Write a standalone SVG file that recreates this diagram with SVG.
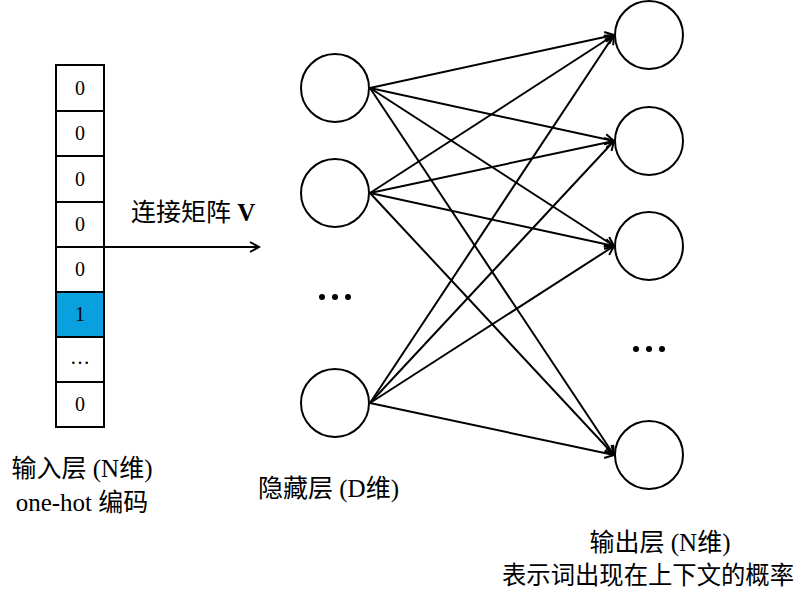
<svg xmlns="http://www.w3.org/2000/svg" width="800" height="600" viewBox="0 0 800 600">
<style>
text{font-family:"Liberation Serif","Noto Sans CJK SC",serif;font-size:20px;fill:#000}
.l{font-size:25px}
.c{fill:#fff;stroke:#000;stroke-width:2}
.cell{fill:#fff;stroke:#000;stroke-width:2}
.e{stroke:#000;stroke-width:2;fill:none;marker-end:url(#a)}
.dot{fill:#000}
</style>
<defs><marker id="a" markerWidth="12" markerHeight="12" refX="10" refY="6" orient="auto" markerUnits="userSpaceOnUse"><path d="M1,1 L10,6 L1,11" fill="none" stroke="#000" stroke-width="2"/></marker></defs>
<rect width="800" height="600" fill="#fff"/>
<g id="input">
<rect class="cell" x="56" y="65" width="48" height="46"/>
<rect class="cell" x="56" y="111" width="48" height="45"/>
<rect class="cell" x="56" y="156" width="48" height="46"/>
<rect class="cell" x="56" y="202" width="48" height="45"/>
<rect class="cell" x="56" y="247" width="48" height="45"/>
<rect class="cell" x="56" y="292" width="48" height="45" style="fill:#0aa0e0"/>
<rect class="cell" x="56" y="337" width="48" height="45"/>
<rect class="cell" x="56" y="382" width="48" height="45"/>
<g text-anchor="middle">
<text x="80" y="95">0</text><text x="80" y="140">0</text><text x="80" y="186">0</text><text x="80" y="231">0</text><text x="80" y="276">0</text><text x="80" y="321">1</text><text x="80" y="364">…</text><text x="80" y="411">0</text>
<text class="l" x="82" y="477">输入层 (N维)</text><text class="l" x="82" y="511">one-hot 编码</text>
</g>
</g>
<g id="hidden">
<circle class="c" cx="335" cy="88" r="34"/>
<circle class="c" cx="335" cy="193" r="34"/>
<circle class="c" cx="335" cy="403" r="34"/>
<circle class="dot" cx="322" cy="297" r="3"/><circle class="dot" cx="335" cy="297" r="3"/><circle class="dot" cx="348" cy="297" r="3"/>
<text class="l" x="258" y="497">隐藏层 (D维)</text>
</g>
<g id="output">
<circle class="c" cx="649" cy="35" r="34"/>
<circle class="c" cx="649" cy="141" r="34"/>
<circle class="c" cx="649" cy="246" r="34"/>
<circle class="c" cx="649" cy="455" r="34"/>
<circle class="dot" cx="636" cy="349" r="3"/><circle class="dot" cx="649" cy="349" r="3"/><circle class="dot" cx="662" cy="349" r="3"/>
<text class="l" x="660" y="551" text-anchor="middle">输出层 (N维)</text>
<text class="l" x="502" y="584" textLength="292" lengthAdjust="spacingAndGlyphs">表示词出现在上下文的概率</text>
</g>
<g id="connectors">
<line class="e" x1="104" y1="247" x2="259" y2="247"/>
<text class="l" x="131" y="221">连接矩阵 <tspan font-weight="bold">V</tspan></text>
<line class="e" x1="370" y1="88" x2="614" y2="35"/>
<line class="e" x1="370" y1="88" x2="614" y2="141"/>
<line class="e" x1="370" y1="88" x2="614" y2="246"/>
<line class="e" x1="370" y1="88" x2="614" y2="455"/>
<line class="e" x1="370" y1="193" x2="614" y2="35"/>
<line class="e" x1="370" y1="193" x2="614" y2="141"/>
<line class="e" x1="370" y1="193" x2="614" y2="246"/>
<line class="e" x1="370" y1="193" x2="614" y2="455"/>
<line class="e" x1="370" y1="403" x2="614" y2="35"/>
<line class="e" x1="370" y1="403" x2="614" y2="141"/>
<line class="e" x1="370" y1="403" x2="614" y2="246"/>
<line class="e" x1="370" y1="403" x2="614" y2="455"/>
</g>
</svg>
